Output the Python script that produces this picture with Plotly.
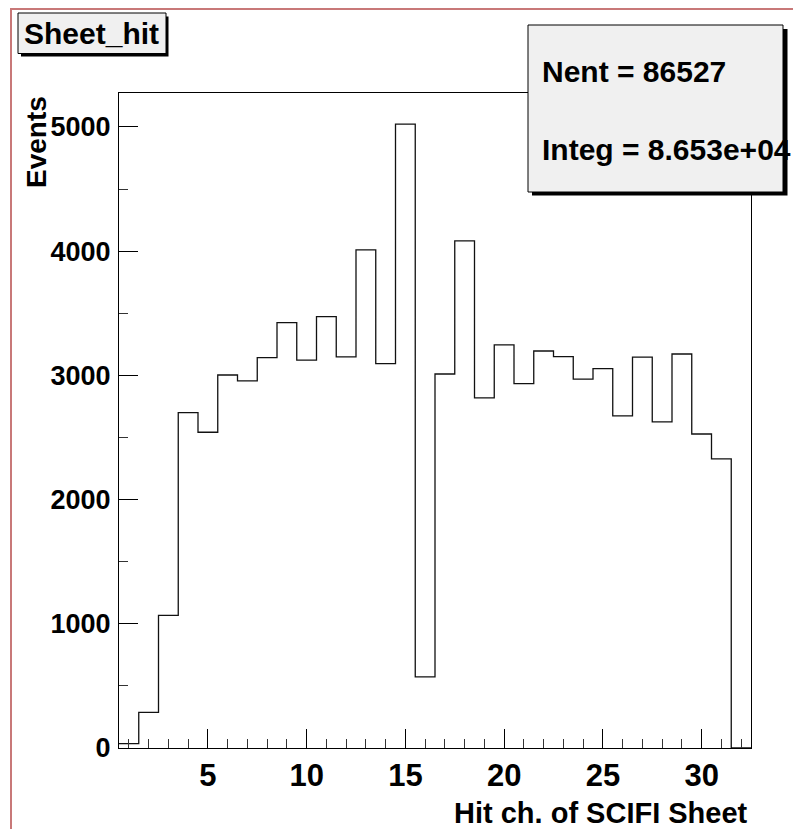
import numpy as np
import plotly.graph_objects as go

# Sheet_hit histogram: hit channel of SCIFI sheet (bins centred on 1..32)
channels = list(range(1, 33))
counts = [35, 287, 1068, 2700, 2542, 3003, 2955, 3143, 3425, 3122, 3473, 3148,
          4010, 3095, 5022, 572, 3011, 4082, 2818, 3245, 2934, 3196, 3151, 2969,
          3054, 2673, 3146, 2625, 3172, 2528, 2327, 0]
x_ticks = [5, 10, 15, 20, 25, 30]
y_ticks = [0, 1000, 2000, 3000, 4000, 5000]
hist_title = "Sheet_hit"
x_title = "Hit ch. of SCIFI Sheet"
y_title = "Events"
stats_lines = ["Nent = 86527", "Integ = 8.653e+04"]

W, H = 793, 829
L, R, T, B = 119, 751, 93, 748  # plot frame in pixels

FONT = "Liberation Sans, Arial, Helvetica, sans-serif"


def px(x):
    return (x - L) / (R - L)


def py(y):
    return (B - y) / (B - T)


# step outline from bin edges
centers = np.array(channels, dtype=float)
edges = np.append(centers - 0.5, centers[-1] + 0.5)
steps = counts + [counts[-1]]

fig = go.Figure()
fig.add_trace(go.Scatter(
    x=edges, y=steps, mode="lines", line_shape="hv",
    line=dict(color="#111111", width=1.3), hoverinfo="skip", showlegend=False,
))

ymax = max(counts) * 1.05

fig.update_layout(
    width=W, height=H,
    margin=dict(l=L, r=W - R, t=T, b=H - B, pad=0),
    paper_bgcolor="white", plot_bgcolor="white",
    showlegend=False,
    xaxis=dict(
        range=[edges[0], edges[-1]], tickvals=x_ticks, ticks="inside", ticklen=19,
        tickcolor="black", tickwidth=1, showgrid=False, zeroline=False,
        showline=True, linecolor="black", linewidth=1, mirror=True,
        minor=dict(dtick=1, tick0=0, ticks="inside", ticklen=9, tickcolor="#333",
                   showgrid=False),
        tickfont=dict(family=FONT, size=31, color="black", weight="bold"),
    ),
    yaxis=dict(
        range=[0, ymax], tickvals=y_ticks, ticks="inside", ticklen=19,
        tickcolor="black", tickwidth=1, showgrid=False, zeroline=False,
        showline=True, linecolor="black", linewidth=1, mirror=True,
        minor=dict(dtick=500, tick0=0, ticks="inside", ticklen=9, tickcolor="#333",
                   showgrid=False),
        tickfont=dict(family=FONT, size=27, color="black", weight="bold"),
        ticklabelstandoff=2,
    ),
)

shapes = [
    # canvas border (left and top visible)
    dict(type="rect", xref="paper", yref="paper", x0=px(11), y0=py(9),
         x1=px(900), y1=py(900), line=dict(color="#c87878", width=2),
         fillcolor="rgba(0,0,0,0)", layer="below"),
    # title box shadow + box
    dict(type="rect", xref="paper", yref="paper", x0=px(21), y0=py(16.5),
         x1=px(168.5), y1=py(56.5), line=dict(width=0), fillcolor="black",
         layer="above"),
    dict(type="rect", xref="paper", yref="paper", x0=px(18), y0=py(13),
         x1=px(166), y1=py(53.5), line=dict(color="black", width=1),
         fillcolor="#f0f0f0", layer="above"),
    # stats box shadow + box
    dict(type="rect", xref="paper", yref="paper", x0=px(532), y0=py(29),
         x1=px(787.5), y1=py(195.5), line=dict(width=0), fillcolor="black",
         layer="above"),
    dict(type="rect", xref="paper", yref="paper", x0=px(528), y0=py(25),
         x1=px(783), y1=py(192), line=dict(color="black", width=1),
         fillcolor="#f0f0f0", layer="above"),
]
fig.update_layout(shapes=shapes)

bold = dict(family=FONT, color="black", weight="bold")
fig.add_annotation(xref="paper", yref="paper", x=px(91), y=py(33.5),
                   text=hist_title, showarrow=False, xanchor="center",
                   yanchor="middle", font=dict(size=30, **bold))
fig.add_annotation(xref="paper", yref="paper", x=px(540), y=py(71.5),
                   text=stats_lines[0], showarrow=False, xanchor="left",
                   yanchor="middle", font=dict(size=30, **bold))
fig.add_annotation(xref="paper", yref="paper", x=px(540), y=py(149),
                   text=stats_lines[1], showarrow=False, xanchor="left",
                   yanchor="middle", font=dict(size=30, **bold))
fig.add_annotation(xref="paper", yref="paper", x=px(750), y=py(813),
                   text=x_title, showarrow=False, xanchor="right",
                   yanchor="middle", font=dict(size=29, **bold))
fig.add_annotation(xref="paper", yref="paper", x=px(37), y=py(94),
                   text=y_title, showarrow=False, textangle=-90,
                   xanchor="center", yanchor="top", font=dict(size=28, **bold))

# the page's default body margin would push the figure 8px in
fig.write_html("out.html", config={"displayModeBar": False},
               post_script="document.body.style.margin='0';")
